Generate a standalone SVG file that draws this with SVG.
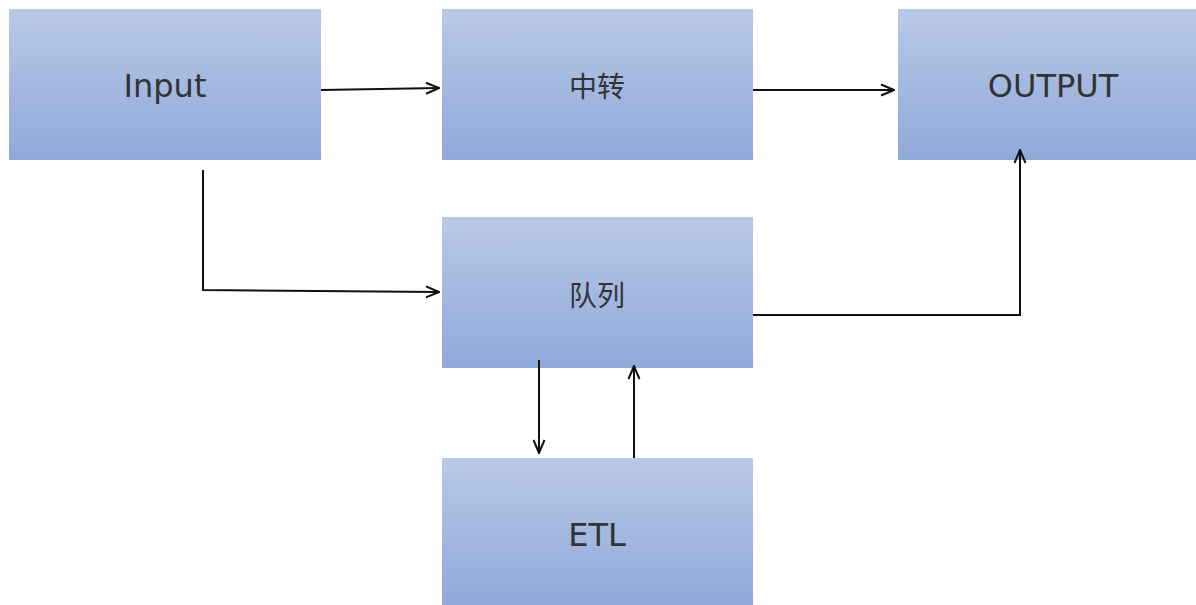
<svg xmlns="http://www.w3.org/2000/svg" width="1196" height="605" viewBox="0 0 1196 605">
  <style>
    .box { fill: url(#boxFill); }
    .label { font-family: "DejaVu Sans", "Noto Sans CJK SC", sans-serif; font-size: 32px; fill: #333333; text-anchor: middle; }
    .cjk { font-family: "Noto Sans CJK SC", "DejaVu Sans", sans-serif; font-size: 28px; }
    .edge { fill: none; stroke: #111111; stroke-width: 2; marker-end: url(#arrow); }
  </style>
  <defs>
    <linearGradient id="boxFill" x1="0" y1="0" x2="0" y2="1">
      <stop offset="0" stop-color="#b9c9e8"/>
      <stop offset="1" stop-color="#8fa9d9"/>
    </linearGradient>
    <marker id="arrow" viewBox="0 0 16 14" refX="15" refY="7" markerWidth="16" markerHeight="14" markerUnits="userSpaceOnUse" orient="auto">
      <path d="M2,1.5 L15,7 L2,12.5" fill="none" stroke="#111111" stroke-width="2"/>
    </marker>
  </defs>

  <rect width="1196" height="605" fill="#ffffff"/>

  <g id="node-input">
    <rect class="box" x="9" y="9" width="312" height="151"/>
    <text class="label" x="165" y="97">Input</text>
  </g>
  <g id="node-relay">
    <rect class="box" x="442" y="9" width="311" height="151"/>
    <text class="label cjk" x="597" y="97">中转</text>
  </g>
  <g id="node-output">
    <rect class="box" x="898" y="9" width="298" height="151"/>
    <text class="label" x="1053" y="97">OUTPUT</text>
  </g>
  <g id="node-queue">
    <rect class="box" x="442" y="217" width="311" height="151"/>
    <text class="label cjk" x="597" y="306">队列</text>
  </g>
  <g id="node-etl">
    <rect class="box" x="442" y="458" width="311" height="147"/>
    <text class="label" x="597" y="546">ETL</text>
  </g>

  <g id="connectors">
    <path class="edge" d="M321,90 L439,88"/>
    <path class="edge" d="M753,90 L894,90"/>
    <path class="edge" d="M203,170 L203,290 L439,292"/>
    <path class="edge" d="M753,315 L1020,315 L1020,150"/>
    <path class="edge" d="M539,360 L539,453"/>
    <path class="edge" d="M634,458 L634,366"/>
  </g>
</svg>
